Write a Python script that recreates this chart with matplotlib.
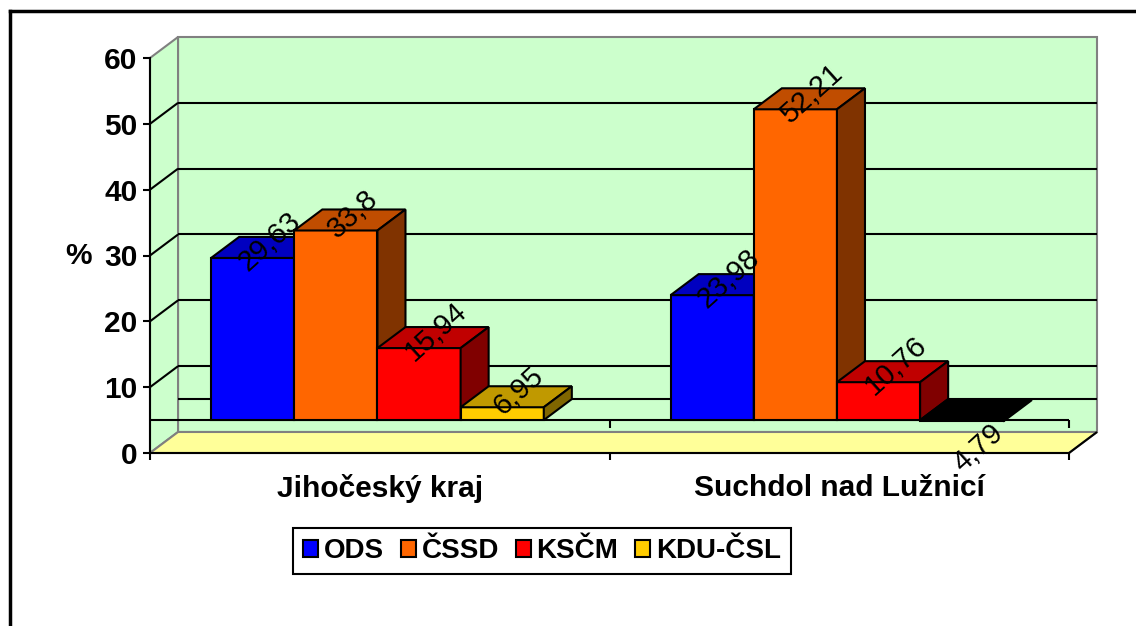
import numpy as np
import matplotlib.pyplot as plt
from matplotlib.patches import Polygon, Patch
from matplotlib.lines import Line2D

plt.rcParams['font.family'] = ['Liberation Sans', 'DejaVu Sans']

# data
categories = ["Jihočeský kraj", "Suchdol nad Lužnicí"]
parties = ["ODS", "ČSSD", "KSČM", "KDU-ČSL"]
ods = [29.63, 23.98]
cssd = [33.8, 52.21]
kscm = [15.94, 10.76]
kdu = [6.95, 4.79]
y_ticks = [0, 10, 20, 30, 40, 50, 60]

# front, top, side colours per party
front_colors = ["#0000FF", "#FF6600", "#FF0000", "#FFCC00"]
top_colors = ["#0000C0", "#C04D00", "#C00000", "#C09900"]
side_colors = ["#000080", "#803300", "#800000", "#806600"]

series = [ods, cssd, kscm, kdu]
base = 5.0          # where the category floor crosses the value axis
dx, dy = 0.061, 3.19  # 3d depth offset in data units
bar_w = 0.181
start = 0.133

W, H = 1136, 626
fig = plt.figure(figsize=(W / 100, H / 100), dpi=100)
fig.patch.set_facecolor("white")
ax = fig.add_axes([150 / W, 1 - 453 / H, 919 / W, 395 / H])
ax.set_xlim(0, 2)
ax.set_ylim(0, 60)
ax.patch.set_visible(False)


def poly(pts, fc, ec="black", lw=1.5, z=2):
    ax.add_patch(Polygon(pts, closed=True, facecolor=fc, edgecolor=ec,
                         linewidth=lw, zorder=z, clip_on=False, joinstyle="miter"))


def line(xs, ys, color="black", lw=1.5, z=1.5):
    ax.add_line(Line2D(xs, ys, color=color, linewidth=lw, zorder=z,
                       clip_on=False, solid_capstyle="butt"))


# walls and floor
poly([(dx, dy), (2 + dx, dy), (2 + dx, 60 + dy), (dx, 60 + dy)], "#CCFFCC", ec="#808080", z=0.5)
poly([(0, 0), (dx, dy), (dx, 60 + dy), (0, 60)], "#CCFFCC", ec="#808080", z=0.6)
poly([(0, 0), (2, 0), (2 + dx, dy), (dx, dy)], "#FFFF99", ec="#808080", z=0.7)
line([2, 2 + dx], [0, dy])

# gridlines on walls
for v in y_ticks[1:-1]:
    line([0, dx], [v, v + dy])
    line([dx, 2 + dx], [v + dy, v + dy])

# category floor at base level
line([-0.003, 2], [base, base], z=1.6)
line([dx, 2 + dx], [base + dy, base + dy], z=1.6)
for c in [1, 2]:
    line([c, c], [base, base - 1.2], z=1.6)

# bars
for i in range(len(categories)):
    for j, vals in enumerate(series):
        v = vals[i]
        x0 = i + start + j * bar_w
        x1 = x0 + bar_w
        lo, hi = min(v, base), max(v, base)
        if v >= base:
            fc, tc, sc = front_colors[j], top_colors[j], side_colors[j]
        else:
            fc = tc = sc = "black"
        poly([(x0, lo), (x1, lo), (x1, hi), (x0, hi)], fc, z=3 + i)
        poly([(x0, hi), (x1, hi), (x1 + dx, hi + dy), (x0 + dx, hi + dy)], tc, z=3 + i)
        poly([(x1, lo), (x1 + dx, lo + dy), (x1 + dx, hi + dy), (x1, hi)], sc, z=3 + i)
        label = f"{v:g}".replace(".", ",")
        xc = (x0 + x1) / 2 + dx / 2
        if v >= base:
            ax.annotate(label, (xc, hi + dy / 2), xytext=(2, 4), textcoords="offset points",
                        rotation=42, ha="center", va="center", fontsize=21,
                        rotation_mode="anchor", zorder=10, annotation_clip=False)
        else:
            ax.annotate(label, (xc, v + dy / 2), xytext=(2, -27), textcoords="offset points",
                        rotation=42, ha="center", va="center", fontsize=21,
                        rotation_mode="anchor", zorder=10, annotation_clip=False)

# axes
for s in ["top", "right"]:
    ax.spines[s].set_visible(False)
ax.spines["left"].set_linewidth(1.5)
ax.spines["bottom"].set_linewidth(1.5)
ax.spines["left"].set_zorder(2)
ax.spines["bottom"].set_zorder(2)
line([0, 0], [0, -1.1], z=2)
ax.set_yticks(y_ticks)
ax.set_yticklabels([str(t) for t in y_ticks], fontsize=21.5, fontweight="bold")
ax.tick_params(axis="y", direction="out", length=5, width=1.5, pad=4)
ax.set_xticks([0.5, 1.5])
ax.set_xticklabels(categories, fontsize=21.5, fontweight="bold")
ax.tick_params(axis="x", which="major", length=0, pad=15)
ax.set_xticks([1, 2], minor=True)
ax.tick_params(axis="x", which="minor", direction="out", length=5, width=1.5)

fig.text(78 / W, 1 - 256 / H, "%", fontsize=21.5, fontweight="bold", ha="center", va="center")

# legend
handles = [Patch(facecolor=c, edgecolor="black", linewidth=1.5) for c in front_colors]
leg = fig.legend(handles, parties, loc="center", bbox_to_anchor=(542 / W, 1 - 551 / H),
                 ncol=4, prop={"weight": "bold", "size": 20},
                 handlelength=0.55, handleheight=0.55, handletextpad=0.2,
                 columnspacing=0.6, borderpad=0.35, fancybox=False, framealpha=1)
leg.get_frame().set_edgecolor("black")
leg.get_frame().set_linewidth(1.5)

# outer frame
fig.add_artist(Line2D([10 / W, 10 / W], [0, 1 - 11 / H], color="black", linewidth=2.5,
                      transform=fig.transFigure))
fig.add_artist(Line2D([10 / W, 1], [1 - 11 / H, 1 - 11 / H], color="black", linewidth=2.5,
                      transform=fig.transFigure))

fig.savefig("out.png", dpi=100)
